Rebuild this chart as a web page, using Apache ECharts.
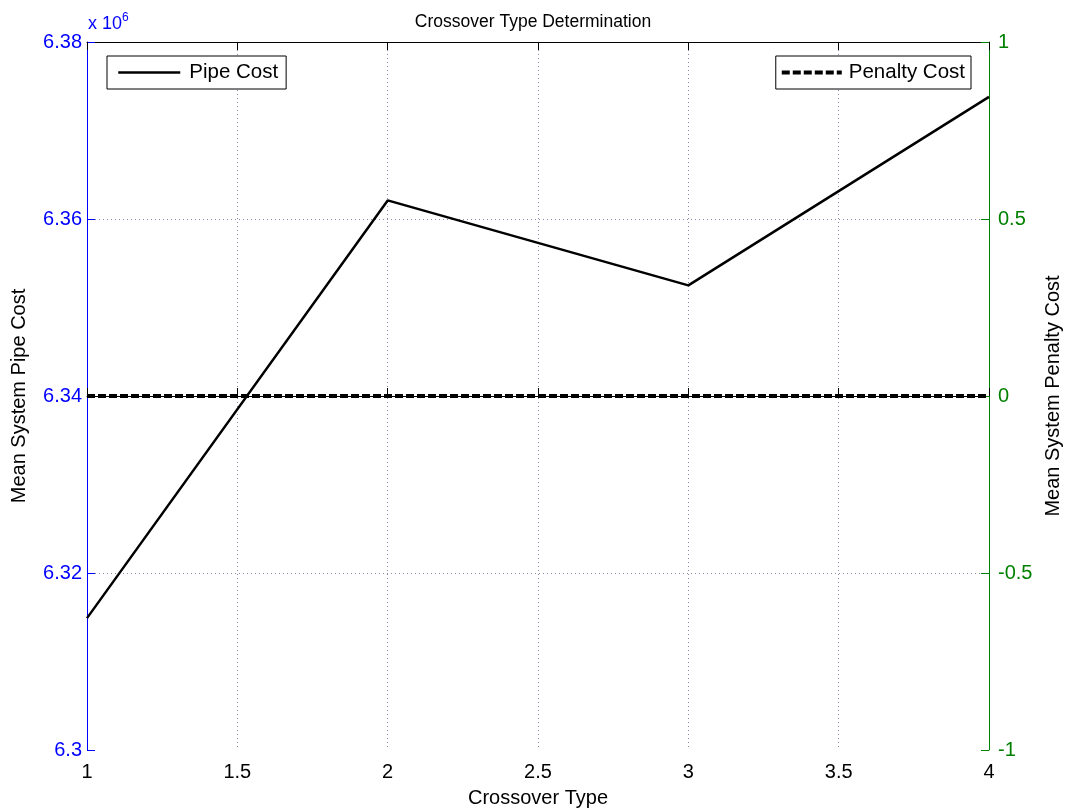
<!DOCTYPE html>
<html><head><meta charset="utf-8">
<script src="https://cdn.jsdelivr.net/npm/echarts@6/dist/echarts.min.js"></script>
<style>html,body{margin:0;padding:0;background:#fff}#c{width:1066px;height:812px}</style>
</head><body><div id="c"></div>
<script>
const crossoverTypes = [1, 2, 3, 4];
const pipeCost = [6.3149, 6.3621, 6.3525, 6.3738]; // x 10^6
const penaltyCost = [0, 0, 0, 0];
const xTicks = [1, 1.5, 2, 2.5, 3, 3.5, 4];
const leftTicks = [6.3, 6.32, 6.34, 6.36, 6.38];
const rightTicks = [-1, -0.5, 0, 0.5, 1];

const font = '"Liberation Sans", Arial, sans-serif';
const chart = echarts.init(document.getElementById('c'));
const grid = {left: 87, right: 77, top: 42, bottom: 62, outerBoundsMode: 'none', containLabel: false};
const gridLine = {show: true, showMinLine: false, showMaxLine: false, lineStyle: {color: '#8a8aa8', type: [1, 3], width: 1}};
chart.setOption({
  backgroundColor: '#fff',
  animation: false,
  title: {text: 'Crossover Type Determination', left: 'center', top: 8,
    textStyle: {fontFamily: font, fontSize: 17.5, fontWeight: 'normal', color: '#000'}},
  grid: grid,
  legend: [
    {data: ['Pipe Cost'], left: 107, top: 56, itemWidth: 62, itemHeight: 14, itemGap: 4,
      padding: [6, 8, 6, 10], borderColor: '#000', borderWidth: 1, backgroundColor: '#fff', borderRadius: 0,
      itemStyle: {opacity: 0}, lineStyle: {width: 2.5},
      textStyle: {fontFamily: font, fontSize: 20.5, color: '#000', padding: [0, 0, 0, 4]}, selectedMode: false},
    {data: ['Penalty Cost'], right: 95, top: 56, itemWidth: 60, itemHeight: 14,
      padding: [6, 6, 6, 4], borderColor: '#000', borderWidth: 1, backgroundColor: '#fff', borderRadius: 0,
      itemStyle: {opacity: 0}, lineStyle: {width: 4, type: [8, 3]},
      textStyle: {fontFamily: font, fontSize: 20.5, color: '#000', padding: [0, 0, 0, 2]}, selectedMode: false}
  ],
  graphic: [{type: 'text', left: 88, top: 12, style: {
    text: '{a|x 10}{s|6}', rich: {a: {fontFamily: font, fontSize: 18, fill: '#0000ff'}, s: {fontFamily: font, fontSize: 12, fill: '#0000ff', verticalAlign: 'top', padding: [0, 0, 12, 0]}}}}],
  xAxis: [
    {type: 'value', min: 1, max: 4, interval: 0.5, position: 'bottom',
      name: 'Crossover Type', nameLocation: 'middle', nameGap: 38,
      nameTextStyle: {fontFamily: font, fontSize: 20, color: '#000'},
      axisLine: {lineStyle: {color: '#000'}},
      axisTick: {inside: true, length: 8, lineStyle: {color: '#000'}},
      axisLabel: {fontFamily: font, fontSize: 20, color: '#000', margin: 12,
        formatter: v => xTicks.includes(v) ? String(v) : ''},
      splitLine: gridLine},
    {type: 'value', min: 1, max: 4, interval: 0.5, position: 'top',
      axisLine: {show: true, lineStyle: {color: '#000'}},
      axisTick: {inside: true, length: 8, lineStyle: {color: '#000'}},
      axisLabel: {show: false}, splitLine: {show: false}}
  ],
  yAxis: [
    {type: 'value', min: 6.3, max: 6.38, interval: 0.02, position: 'left',
      name: 'Mean System Pipe Cost', nameLocation: 'middle', nameGap: 58, nameRotate: 90,
      nameTextStyle: {fontFamily: font, fontSize: 20, color: '#000'},
      axisLine: {show: true, lineStyle: {color: '#0000ff'}},
      axisTick: {show: true, inside: true, length: 8, lineStyle: {color: '#0000ff'}},
      axisLabel: {fontFamily: font, fontSize: 20, color: '#0000ff', margin: 5,
        formatter: v => { const t = leftTicks.find(x => Math.abs(x - v) < 1e-9); return t === undefined ? '' : String(t); }},
      splitLine: gridLine},
    {type: 'value', min: -1, max: 1, interval: 0.5, position: 'right',
      name: 'Mean System Penalty Cost', nameLocation: 'middle', nameGap: 54, nameRotate: 90,
      nameTextStyle: {fontFamily: font, fontSize: 20, color: '#000'},
      axisLine: {show: true, lineStyle: {color: '#008000'}},
      axisTick: {show: true, inside: true, length: 8, lineStyle: {color: '#008000'}},
      axisLabel: {fontFamily: font, fontSize: 20, color: '#008000', margin: 9,
        formatter: v => { const t = rightTicks.find(x => Math.abs(x - v) < 1e-9); return t === undefined ? '' : String(t); }},
      splitLine: {show: false}}
  ],
  series: [
    {name: 'Pipe Cost', type: 'line', xAxisIndex: 0, yAxisIndex: 0, symbol: 'none',
      data: crossoverTypes.map((x, i) => [x, pipeCost[i]]),
      lineStyle: {color: '#000', width: 2.5}, itemStyle: {color: '#000'}},
    {name: 'Penalty Cost', type: 'line', xAxisIndex: 0, yAxisIndex: 1, symbol: 'none',
      data: crossoverTypes.map((x, i) => [x, penaltyCost[i]]),
      lineStyle: {color: '#000', width: 4, type: [8, 3]}, itemStyle: {color: '#000'}}
  ]
});
</script></body></html>
